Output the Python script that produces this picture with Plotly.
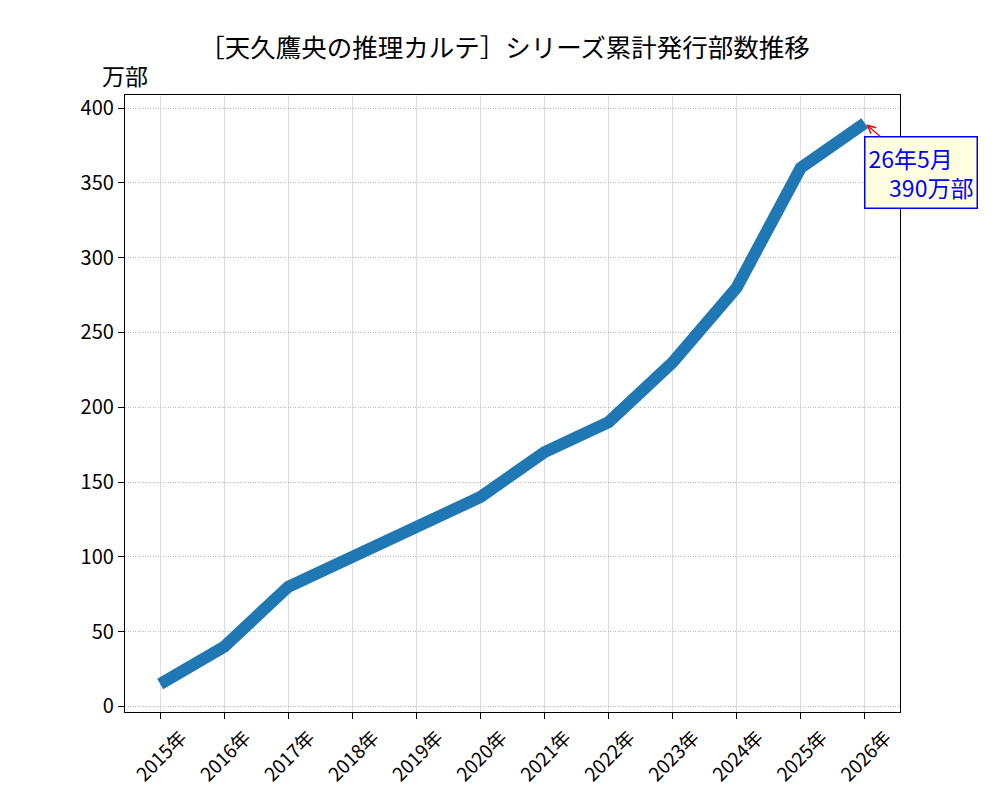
import plotly.graph_objects as go

# 累計発行部数 (万部)
years = ["2015年", "2016年", "2017年", "2018年", "2019年", "2020年",
         "2021年", "2022年", "2023年", "2024年", "2025年", "2026年"]
copies = [15, 40, 80, 100, 120, 140, 170, 190, 230, 280, 360, 390]

y_ticks = [0, 50, 100, 150, 200, 250, 300, 350, 400]
title_text = "［天久鷹央の推理カルテ］シリーズ累計発行部数推移"
note_text = "26年5月<br>\u00a0\u00a0\u00a0\u00a0390万部"

FONT = "Noto Sans CJK JP, sans-serif"

fig = go.Figure()
fig.add_trace(go.Scatter(x=years, y=copies, mode="lines",
                         line=dict(color="#1f77b4", width=12),
                         showlegend=False, hoverinfo="x+y"))

# the page adds 8px of body margin, so shift everything up/left by 8
fig.update_layout(
    width=1000, height=800,
    margin=dict(l=117, r=108, t=87, b=96),
    paper_bgcolor="white", plot_bgcolor="white",
    font=dict(family=FONT, size=20, color="black"),
    title=dict(text=title_text, x=0.4965, xanchor="center", y=0.95, yanchor="middle",
               font=dict(size=25.5, family=FONT)),
)

fig.update_xaxes(
    type="category", range=[-0.55, 11.55],
    showline=True, mirror=True, linecolor="black", linewidth=1.3,
    ticks="outside", ticklen=6, tickwidth=1.3, tickcolor="black",
    tickangle=-45, tickfont=dict(size=19), ticklabelshift=21,
    showgrid=True, gridcolor="#dddddd", gridwidth=1, zeroline=False,
)
fig.update_yaxes(
    range=[-3.75, 408.75], tickvals=y_ticks,
    showline=True, mirror=True, linecolor="black", linewidth=1.3,
    ticks="outside", ticklen=6, tickwidth=1.3, tickcolor="black",
    tickfont=dict(size=20),
    showgrid=True, gridcolor="#bbbbbb", gridwidth=1, griddash="1px,1.5px",
    zeroline=False,
)

# 単位ラベル
fig.add_annotation(text="万部", xref="paper", yref="paper", x=0.0, y=1.0,
                   xanchor="center", yanchor="bottom", yshift=1, showarrow=False,
                   font=dict(size=23))

# 最新値の注記
fig.add_annotation(x=years[-1], y=copies[-1], xref="x", yref="y",
                   text=note_text, align="left", showarrow=True,
                   ax=56, ay=49, arrowcolor="red", arrowhead=5, arrowsize=1.2,
                   arrowwidth=1.3, standoff=2,
                   font=dict(size=23, color="blue"),
                   bgcolor="#ffffe0", bordercolor="blue", borderwidth=1.5,
                   borderpad=3)

fig.write_html("out.html")
